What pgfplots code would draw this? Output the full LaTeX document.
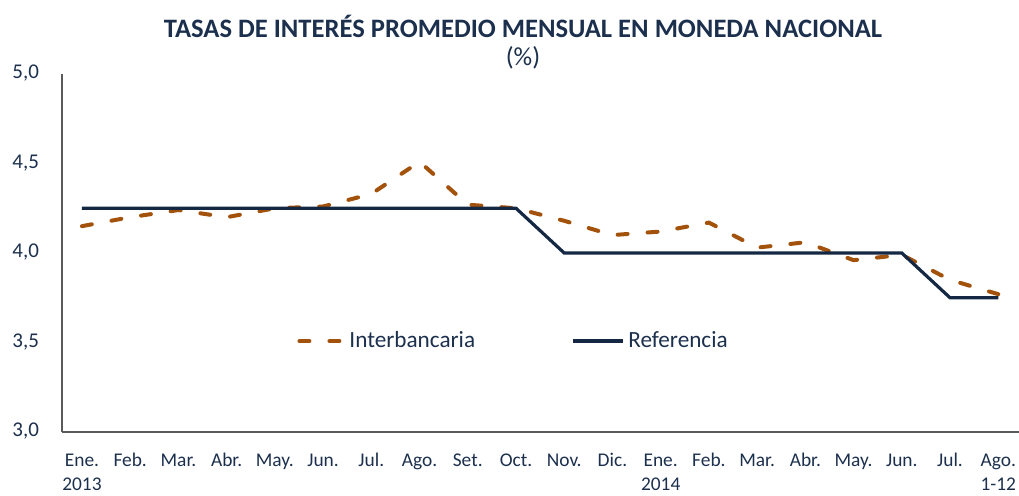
\documentclass[border=0pt]{standalone}
\usepackage{pgfplots}
\pgfplotsset{compat=1.18}
\usepackage{fontspec}
\setmainfont{Carlito}
\definecolor{refc}{RGB}{20,40,68}
\definecolor{intc}{RGB}{163,82,12}
\definecolor{txt}{RGB}{28,48,78}
\definecolor{axc}{RGB}{90,90,90}
\pgfplotsset{
  intleg/.style={legend image code/.code={\draw[##1] (1pt,0pt) -- (23pt,0pt);}},
  refleg/.style={legend image code/.code={\draw[##1] (0pt,0pt) -- (25pt,0pt);}},
}
\begin{document}
\begin{tikzpicture}
\useasboundingbox (-31pt,-31.5pt) rectangle (478.5pt,216pt);
\node[text=txt, font=\fontsize{13.3}{15}\selectfont\bfseries] at (230.5pt,203pt) {TASAS DE INTERÉS PROMEDIO MENSUAL EN MONEDA NACIONAL};
\node[text=txt, font=\fontsize{13}{15}\selectfont] at (230.5pt,187pt) {(\%)};
\begin{axis}[
  at={(0,0)}, anchor=south west,
  width=478.5pt, height=179pt, scale only axis,
  xmin=-0.414, xmax=19.43, ymin=3, ymax=5,
  axis x line*=bottom, axis y line*=left,
  axis line style={draw=axc, line width=0.9pt},
  major tick length=0pt,
  xtick={0,...,19},
  typeset ticklabels with strut,
  xticklabels={{Ene.\\2013},Feb.,Mar.,Abr.,May.,Jun.,Jul.,Ago.,Set.,Oct.,Nov.,Dic.,{Ene.\\2014},Feb.,Mar.,Abr.,May.,Jun.,Jul.,{Ago.\\1-12}},
  xticklabel style={font=\fontsize{9.7}{12.3}\selectfont, text=txt, align=center, anchor=north, inner sep=0pt, yshift=-8.2pt},
  ytick={3,3.5,4,4.5,5},
  yticklabel style={font=\fontsize{10.5}{12}\selectfont, text=txt, xshift=-8pt,
    /pgf/number format/.cd, fixed, fixed zerofill, precision=1, use comma, assume math mode=true},
  legend style={at={(0.2456,0.254)}, anchor=west, draw=none, fill=none, inner sep=0pt,
    font=\fontsize{11.6}{13}\selectfont, text=txt, legend columns=2,
    /tikz/every even column/.append style={column sep=46pt}},
  legend cell align=left,
]
\addplot[intc, line width=2pt, line cap=round, dash pattern=on 5pt off 10pt, intleg]
  coordinates {(0,4.15)(1,4.20)(2,4.24)(3,4.20)(4,4.25)(5,4.26)(6,4.33)(7,4.51)(8,4.27)(9,4.25)
  (10,4.18)(11,4.10)(12,4.12)(13,4.17)(14,4.03)(15,4.06)(16,3.96)(17,3.99)(18,3.85)(19,3.77)};
\addlegendentry{Interbancaria}
\addplot[refc, line width=1.6pt, refleg]
  coordinates {(0,4.25)(1,4.25)(2,4.25)(3,4.25)(4,4.25)(5,4.25)(6,4.25)(7,4.25)(8,4.25)(9,4.25)
  (10,4.00)(11,4.00)(12,4.00)(13,4.00)(14,4.00)(15,4.00)(16,4.00)(17,4.00)(18,3.75)(19,3.75)};
\addlegendentry{Referencia}
\end{axis}
\end{tikzpicture}
\end{document}
